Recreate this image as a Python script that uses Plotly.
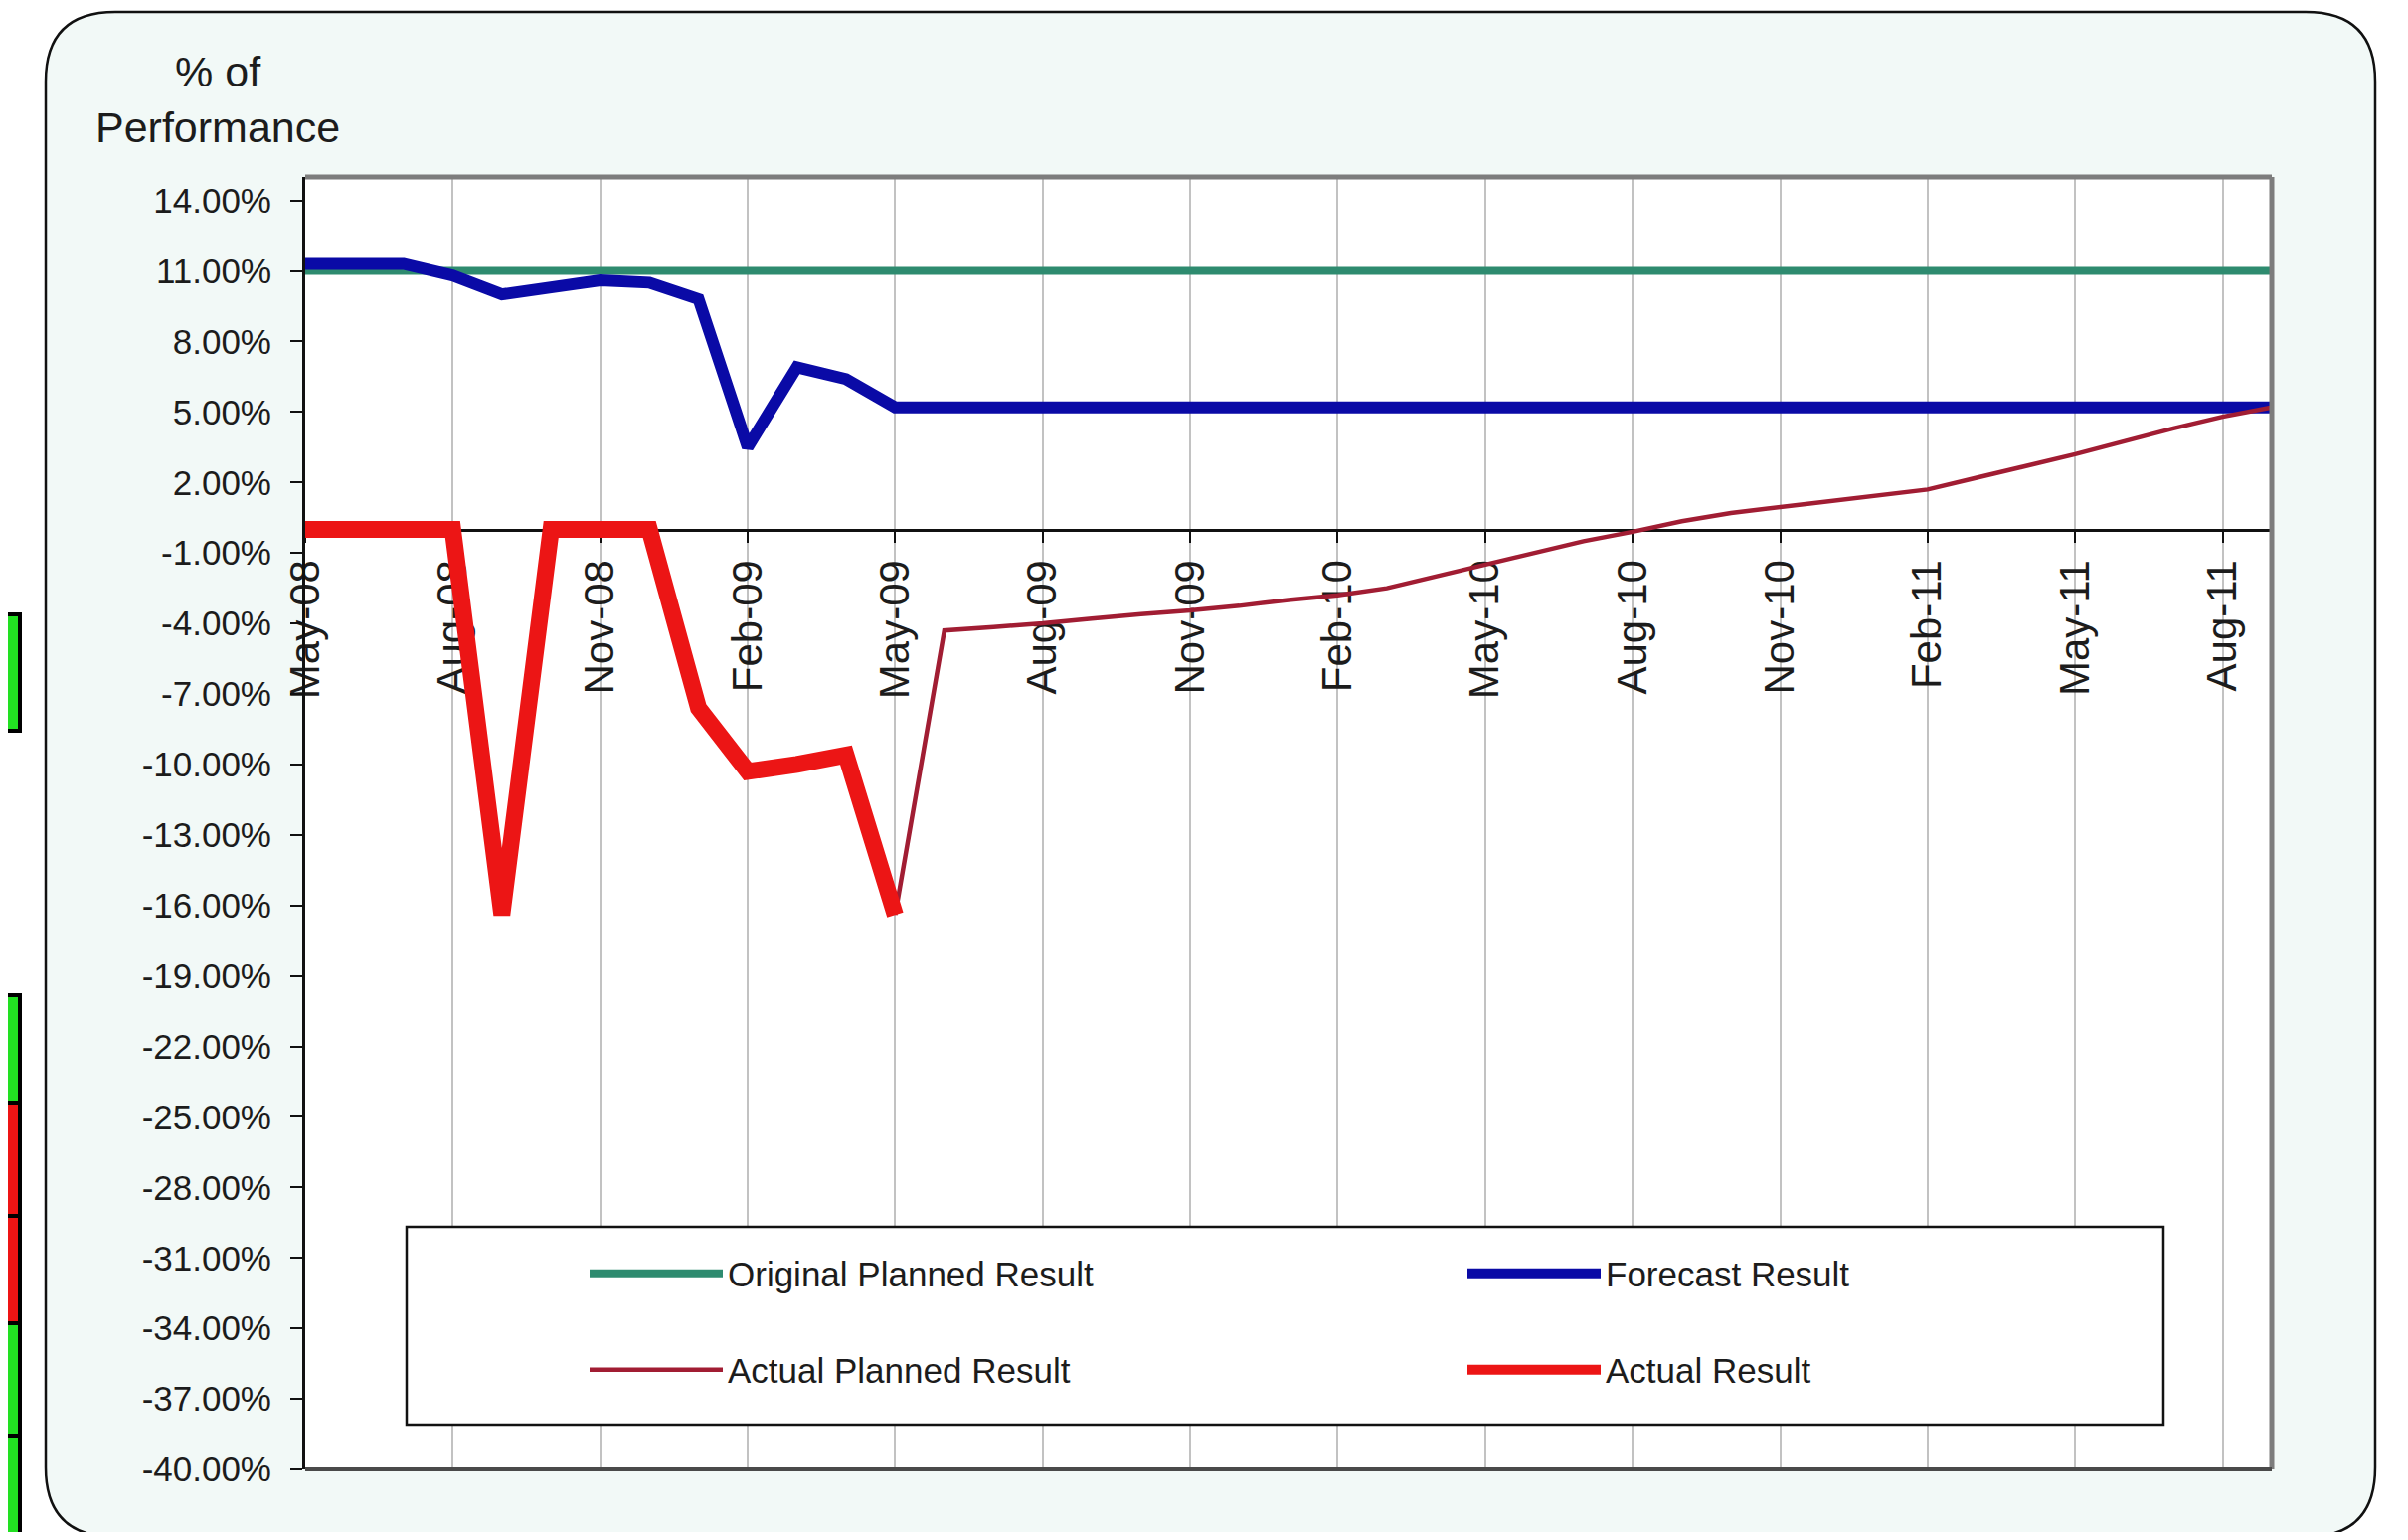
import plotly.graph_objects as go

# ---------------- data ----------------
months = ["May-08", "Jun-08", "Jul-08", "Aug-08", "Sep-08", "Oct-08", "Nov-08", "Dec-08",
          "Jan-09", "Feb-09", "Mar-09", "Apr-09", "May-09", "Jun-09", "Jul-09", "Aug-09",
          "Sep-09", "Oct-09", "Nov-09", "Dec-09", "Jan-10", "Feb-10", "Mar-10", "Apr-10",
          "May-10", "Jun-10", "Jul-10", "Aug-10", "Sep-10", "Oct-10", "Nov-10", "Dec-10",
          "Jan-11", "Feb-11", "Mar-11", "Apr-11", "May-11", "Jun-11", "Jul-11", "Aug-11",
          "Sep-11"]

x_tick_labels = ["May-08", "Aug-08", "Nov-08", "Feb-09", "May-09", "Aug-09", "Nov-09",
                 "Feb-10", "May-10", "Aug-10", "Nov-10", "Feb-11", "May-11", "Aug-11"]

y_tick_values = [14, 11, 8, 5, 2, -1, -4, -7, -10, -13, -16, -19, -22, -25, -28, -31, -34, -37, -40]
y_tick_labels = ["14.00%", "11.00%", "8.00%", "5.00%", "2.00%", "-1.00%", "-4.00%", "-7.00%",
                 "-10.00%", "-13.00%", "-16.00%", "-19.00%", "-22.00%", "-25.00%", "-28.00%",
                 "-31.00%", "-34.00%", "-37.00%", "-40.00%"]

original_planned = [11.0, 11.0, 11.0, 11.0, 11.0, 11.0, 11.0, 11.0, 11.0, 11.0, 11.0, 11.0,
                    11.0, 11.0, 11.0, 11.0, 11.0, 11.0, 11.0, 11.0, 11.0, 11.0, 11.0, 11.0,
                    11.0, 11.0, 11.0, 11.0, 11.0, 11.0, 11.0, 11.0, 11.0, 11.0, 11.0, 11.0,
                    11.0, 11.0, 11.0, 11.0, 11.0]

forecast = [11.3, 11.3, 11.3, 10.8, 10.0, 10.3, 10.6, 10.5, 9.8, 3.5, 6.9, 6.4,
            5.2, 5.2, 5.2, 5.2, 5.2, 5.2, 5.2, 5.2, 5.2, 5.2, 5.2, 5.2,
            5.2, 5.2, 5.2, 5.2, 5.2, 5.2, 5.2, 5.2, 5.2, 5.2, 5.2, 5.2,
            5.2, 5.2, 5.2, 5.2, 5.2]

actual_planned = [None, None, None, None, None, None, None, None, None, None, None, None,
                  -16.4, -4.3, -4.15, -4.0, -3.8, -3.6, -3.45, -3.25, -3.0, -2.8, -2.5, -2.0,
                  -1.5, -1.0, -0.5, -0.1, 0.35, 0.7, 0.95, 1.2, 1.45, 1.7, 2.2, 2.7,
                  3.2, 3.75, 4.3, 4.8, 5.2]

actual = [0.0, 0.0, 0.0, 0.0, -16.4, 0.0, 0.0, 0.0, -7.6, -10.3, -10.0, -9.6,
          -16.4, None, None, None, None, None, None, None, None, None, None, None,
          None, None, None, None, None, None, None, None, None, None, None, None,
          None, None, None, None, None]

series_names = ["Original Planned Result", "Forecast Result", "Actual Planned Result", "Actual Result"]

# ---------------- geometry (page pixels) ----------------
PAGE_W, PAGE_H = 2422, 1549
OFF = 8                                         # default body margin of the html page
W, H = PAGE_W - 2 * OFF, PAGE_H - 2 * OFF       # figure size
PL, PR, PT, PB = 307, 2285, 178, 1478           # plot area edges on the page
PW, PH = PR - PL, PB - PT


def px(X):
    return (X - PL) / PW


def py(Y):
    return (PB - Y) / PH


FONT = "Liberation Sans, Arial, sans-serif"
TXT = "#1c1c1c"

fig = go.Figure()
fig.add_trace(go.Scatter(x=months, y=original_planned, mode="lines", name=series_names[0],
                         line=dict(color="#2e8b6f", width=8), legend="legend"))
fig.add_trace(go.Scatter(x=months, y=forecast, mode="lines", name=series_names[1],
                         line=dict(color="#0a0aa6", width=12), legend="legend2"))
fig.add_trace(go.Scatter(x=months, y=actual_planned, mode="lines", name=series_names[2],
                         line=dict(color="#a11d33", width=4.5), legend="legend3"))
fig.add_trace(go.Scatter(x=months, y=actual, mode="lines", name=series_names[3],
                         line=dict(color="#ec1515", width=17), legend="legend4"))

leg_common = dict(bgcolor="rgba(0,0,0,0)", borderwidth=0, itemwidth=134,
                  font=dict(family=FONT, size=35, color=TXT), xanchor="left", yanchor="middle")
col1_x, col2_x = 588, 1471
row1_y, row2_y = 1281, 1378

shapes = []
# outer rounded chart frame
x0, x1, y0, y1, r = 46, 2389, 12, 1546, 70
rx, ry = r / PW, r / PH
path = (f"M {px(x0)+rx},{py(y0)} L {px(x1)-rx},{py(y0)} Q {px(x1)},{py(y0)} {px(x1)},{py(y0)-ry} "
        f"L {px(x1)},{py(y1)+ry} Q {px(x1)},{py(y1)} {px(x1)-rx},{py(y1)} "
        f"L {px(x0)+rx},{py(y1)} Q {px(x0)},{py(y1)} {px(x0)},{py(y1)+ry} "
        f"L {px(x0)},{py(y0)-ry} Q {px(x0)},{py(y0)} {px(x0)+rx},{py(y0)} Z")
shapes.append(dict(type="path", xref="paper", yref="paper", path=path, layer="below",
                   fillcolor="#f2f9f7", line=dict(color="#111111", width=2.5)))
# white plot area
shapes.append(dict(type="rect", xref="paper", yref="paper", layer="below",
                   x0=0, x1=1, y0=0, y1=1, fillcolor="white", line=dict(width=0)))

# spreadsheet cells peeking in at the left edge
cells = [(618, 735, "#22e022"), (1001, 1109, "#22e022"), (1109, 1223, "#ee1414"),
         (1223, 1331, "#ee1414"), (1331, 1444, "#22e022"), (1444, 1560, "#22e022")]
for (ya, yb, c) in cells:
    shapes.append(dict(type="rect", xref="paper", yref="paper", layer="below",
                       x0=px(-20), x1=px(20), y0=py(yb), y1=py(ya),
                       fillcolor=c, line=dict(color="black", width=4)))

# plot-area frame
shapes.append(dict(type="line", xref="paper", yref="paper", x0=0, x1=1, y0=1, y1=1,
                   layer="above", line=dict(color="#7d7d7d", width=5)))
shapes.append(dict(type="line", xref="paper", yref="paper", x0=1, x1=1, y0=0, y1=1,
                   layer="above", line=dict(color="#7d7d7d", width=5)))
shapes.append(dict(type="line", xref="paper", yref="paper", x0=0, x1=1, y0=0, y1=0,
                   layer="above", line=dict(color="#4a4a4a", width=4)))
# legend box
shapes.append(dict(type="rect", xref="paper", yref="paper", layer="above",
                   x0=px(409), x1=px(2176), y0=py(1433), y1=py(1234),
                   fillcolor="white", line=dict(color="#111111", width=2.5)))

fig.update_layout(
    width=W, height=H,
    margin=dict(l=PL - OFF, r=W - (PR - OFF), t=PT - OFF, b=H - (PB - OFF), pad=0),
    paper_bgcolor="white", plot_bgcolor="white",
    font=dict(family=FONT, color=TXT),
    showlegend=True,
    legend=dict(x=px(col1_x), y=py(row1_y), **leg_common),
    legend2=dict(x=px(col2_x), y=py(row1_y), **leg_common),
    legend3=dict(x=px(col1_x), y=py(row2_y), **leg_common),
    legend4=dict(x=px(col2_x), y=py(row2_y), **leg_common),
    shapes=shapes,
    annotations=[dict(text="% of<br>Performance", xref="paper", yref="paper",
                      x=px(219), y=py(100), xanchor="center", yanchor="middle",
                      showarrow=False, align="center",
                      font=dict(family=FONT, size=43, color=TXT))],
    xaxis=dict(type="category", categoryorder="array", categoryarray=months,
               range=[0, 40], tickmode="array", tickvals=x_tick_labels, ticktext=x_tick_labels,
               tickangle=-90, tickfont=dict(family=FONT, size=42, color=TXT),
               showgrid=True, gridcolor="#c2c2c2", gridwidth=2,
               showline=True, linecolor="#111111", linewidth=2.5,
               ticks="outside", ticklen=12, tickwidth=2, tickcolor="#111111",
               anchor="free", position=40 / 55, layer="below traces",
               zeroline=False, fixedrange=True),
    yaxis=dict(range=[-40, 15], tickmode="array", tickvals=y_tick_values, ticktext=y_tick_labels,
               tickfont=dict(family=FONT, size=35, color=TXT), ticklabelstandoff=12,
               showgrid=False, zeroline=False,
               showline=True, linecolor="#111111", linewidth=3,
               ticks="outside", ticklen=12, tickwidth=2, tickcolor="#111111",
               fixedrange=True),
)

fig.write_html("out.html")
